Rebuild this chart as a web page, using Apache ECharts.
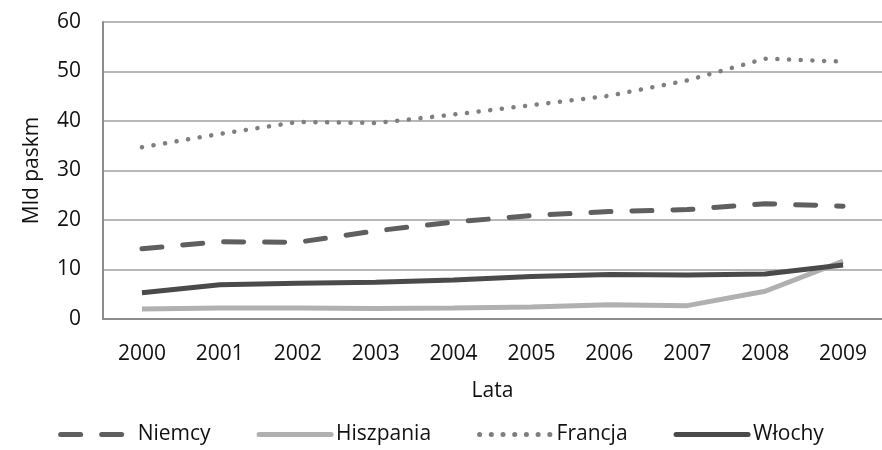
<!DOCTYPE html>
<html>
<head>
<meta charset="utf-8">
<script src="https://cdn.jsdelivr.net/npm/echarts@6/dist/echarts.min.js"></script>
<style>
  html, body { margin: 0; padding: 0; background: #fff; }
  #chart { width: 882px; height: 450px; }
</style>
</head>
<body>
<div id="chart"></div>
<script>
  const years = ['2000', '2001', '2002', '2003', '2004', '2005', '2006', '2007', '2008', '2009']
  const niemcy = [14.2, 15.6, 15.5, 17.8, 19.6, 20.9, 21.7, 22.1, 23.3, 22.8]
  const hiszpania = [2.0, 2.2, 2.2, 2.1, 2.2, 2.4, 2.9, 2.7, 5.6, 11.7]
  const francja = [34.7, 37.4, 39.8, 39.6, 41.3, 43.2, 45.1, 48.2, 52.6, 52.0]
  const wlochy = [5.3, 6.9, 7.2, 7.4, 7.9, 8.6, 9.0, 8.9, 9.1, 10.9]

  const font = 'Open Sans'
  const txt = '#111'

  const chart = echarts.init(document.getElementById('chart'))

  chart.setOption({
    animation: false,
    grid: {
      left: 103,
      right: -4,
      top: 22,
      bottom: 131
    },
    legend: {
      bottom: 0,
      left: 'center',
      itemWidth: 72,
      itemHeight: 14,
      itemGap: 46,
      itemStyle: { opacity: 0 },
      lineStyle: { width: 5, cap: 'round' },
      textStyle: { fontFamily: font, fontSize: 21, color: txt },
      data: ['Niemcy', 'Hiszpania', 'Francja', 'Włochy']
    },
    xAxis: {
      type: 'category',
      data: years,
      name: 'Lata',
      nameLocation: 'middle',
      nameGap: 62,
      nameTextStyle: { fontFamily: font, fontSize: 21, color: txt },
      axisTick: { show: false },
      axisLine: { lineStyle: { color: '#8c8c8c', width: 2 } },
      axisLabel: { fontFamily: font, fontSize: 21, color: txt, margin: 25 }
    },
    yAxis: {
      type: 'value',
      min: 0,
      max: 60,
      interval: 10,
      name: 'Mld paskm',
      nameLocation: 'middle',
      nameGap: 60,
      nameTextStyle: { fontFamily: font, fontSize: 21, color: txt },
      axisLine: { show: true, lineStyle: { color: '#8c8c8c', width: 2 } },
      axisTick: { show: false },
      axisLabel: { fontFamily: font, fontSize: 21, color: txt, margin: 22 },
      splitLine: { lineStyle: { color: '#a0a0a0', width: 1.5 } }
    },
    series: [
      {
        name: 'Niemcy',
        type: 'line',
        data: niemcy,
        symbol: 'none',
        color: '#5f5f5f',
        lineStyle: { color: '#5f5f5f', width: 5, type: [20, 21], cap: 'round' }
      },
      {
        name: 'Hiszpania',
        type: 'line',
        data: hiszpania,
        symbol: 'none',
        color: '#b0b0b0',
        lineStyle: { color: '#b0b0b0', width: 5 }
      },
      {
        name: 'Francja',
        type: 'line',
        data: francja,
        symbol: 'none',
        color: '#7f7f7f',
        lineStyle: { color: '#7f7f7f', width: 4.5, type: [0.1, 11.6], cap: 'round' }
      },
      {
        name: 'Włochy',
        type: 'line',
        data: wlochy,
        symbol: 'none',
        color: '#4a4a4a',
        lineStyle: { color: '#4a4a4a', width: 5 }
      }
    ]
  })
</script>
</body>
</html>
